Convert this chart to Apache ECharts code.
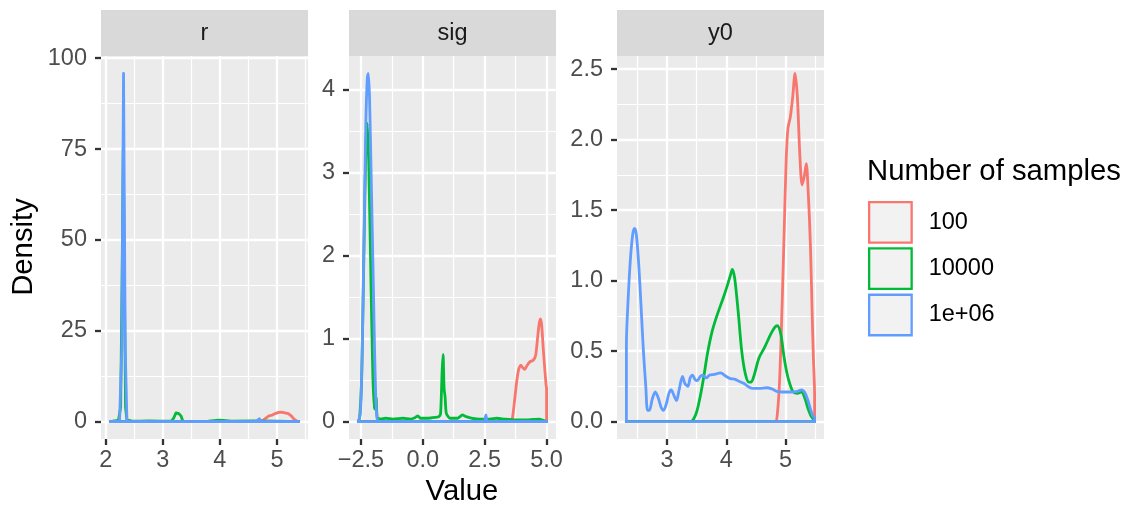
<!DOCTYPE html>
<html>
<head>
<meta charset="utf-8">
<script src="https://cdn.jsdelivr.net/npm/echarts@6/dist/echarts.min.js"></script>
<style>
  html, body { margin: 0; padding: 0; background: #fff; }
  #chart { width: 1124px; height: 505px; }
</style>
</head>
<body>
<div id="chart"></div>
<script>
// facets and groups
const panelNames = ['r', 'sig', 'y0']
const groups = ['100', '10000', '1e+06']
const colors = ['#F8766D', '#00BA38', '#619CFF']

// axis ranges (ggplot expanded by 5%)
const xMin = [1.915, -2.98, 2.154]
const xMax = [5.545, 5.38, 5.649]
const yMin = [-4.79, -0.21, -0.1235]
const yMax = [100.6, 4.41, 2.5935]

// break positions
const xMajor = [[2, 3, 4, 5], [-2.5, 0, 2.5, 5], [3, 4, 5]]
const xMinor = [[2.5, 3.5, 4.5, 5.5], [-1.25, 1.25, 3.75], [2.5, 3.5, 4.5, 5.5]]
const yMajor = [[0, 25, 50, 75, 100], [0, 1, 2, 3, 4], [0, 0.5, 1, 1.5, 2, 2.5]]
const yMinor = [[12.5, 37.5, 62.5, 87.5], [0.5, 1.5, 2.5, 3.5], [0.25, 0.75, 1.25, 1.75, 2.25]]

// density curves: [value, density]
const r100 = [[2.08, 0], [4.70, 0], [4.75, 0.2], [4.80, 0.9], [4.86, 1.6], [4.92, 1.8], [4.97, 2.2], [5.03, 2.55], [5.08, 2.6], [5.14, 2.4], [5.20, 2.2], [5.25, 1.6], [5.30, 0.7], [5.35, 0.1], [5.38, 0]]
const r10000 = [[2.08, 0], [2.15, 0.2], [2.22, 0.3], [2.26, 4], [2.285, 40], [2.305, 75], [2.325, 40], [2.345, 4], [2.37, 0.4], [2.45, 0.2], [2.6, 0.1], [2.75, 0.2], [2.95, 0.1], [3.15, 0.1], [3.19, 1.0], [3.23, 2.4], [3.28, 2.2], [3.32, 1.5], [3.35, 0.1], [3.55, 0.05], [3.8, 0.1], [3.98, 0.4], [4.06, 0.3], [4.2, 0.1], [4.6, 0.2], [5.0, 0.1], [5.38, 0]]
const r1e6 = [[2.08, 0], [2.24, 0], [2.28, 20], [2.31, 95.8], [2.34, 20], [2.37, 0], [4.64, 0], [4.69, 0.8], [4.73, 0], [5.38, 0]]

const sig100 = [[-2.6, 0], [3.56, 0], [3.63, 0.06], [3.72, 0.29], [3.8, 0.5], [3.88, 0.64], [3.96, 0.68], [4.04, 0.65], [4.12, 0.63], [4.2, 0.67], [4.32, 0.72], [4.46, 0.74], [4.56, 0.8], [4.64, 1.02], [4.7, 1.18], [4.75, 1.24], [4.8, 1.17], [4.87, 0.86], [4.93, 0.62], [4.98, 0.44], [5.0, 0.4], [5.0, 0]]
const sig10000 = [[-2.6, 0], [-2.55, 0.05], [-2.47, 0.5], [-2.38, 2.0], [-2.3, 3.3], [-2.24, 3.6], [-2.18, 3.1], [-2.1, 1.8], [-2.02, 0.6], [-1.96, 0.15], [-1.92, 0.3], [-1.88, 0.28], [-1.84, 0.05], [-1.7, 0.03], [-1.5, 0.04], [-1.2, 0.03], [-0.8, 0.04], [-0.5, 0.03], [-0.3, 0.05], [-0.2, 0.07], [-0.1, 0.04], [0.2, 0.04], [0.5, 0.05], [0.65, 0.06], [0.72, 0.1], [0.78, 0.6], [0.82, 0.81], [0.86, 0.4], [0.9, 0.3], [0.95, 0.1], [1.1, 0.04], [1.4, 0.04], [1.6, 0.08], [1.75, 0.06], [2.0, 0.04], [2.3, 0.03], [2.7, 0.03], [3.0, 0.04], [3.3, 0.03], [3.7, 0.02], [4.2, 0.02], [4.7, 0.03], [5.0, 0]]
const sig1e6 = [[-2.6, 0], [-2.52, 0.1], [-2.45, 0.8], [-2.38, 2.1], [-2.3, 3.6], [-2.24, 4.15], [-2.2, 4.2], [-2.15, 3.9], [-2.08, 2.9], [-2.0, 1.7], [-1.95, 0.9], [-1.9, 0.3], [-1.85, 0.05], [-1.8, 0], [2.47, 0], [2.55, 0.08], [2.62, 0], [5.0, 0]]

const y0100 = [[2.313, 0], [4.82, 0], [4.86, 0.05], [4.9, 0.3], [4.94, 0.8], [4.98, 1.4], [5.01, 1.85], [5.04, 2.08], [5.08, 2.16], [5.12, 2.3], [5.16, 2.47], [5.2, 2.3], [5.24, 1.9], [5.28, 1.68], [5.32, 1.75], [5.35, 1.83], [5.38, 1.65], [5.42, 1.25], [5.45, 0.75], [5.47, 0.45], [5.49, 0.2], [5.49, 0]]
const y010000 = [[2.313, 0], [3.4, 0], [3.45, 0.02], [3.5, 0.07], [3.56, 0.18], [3.62, 0.32], [3.68, 0.48], [3.76, 0.64], [3.84, 0.75], [3.95, 0.88], [4.02, 0.97], [4.07, 1.04], [4.1, 1.08], [4.14, 1.02], [4.2, 0.78], [4.26, 0.5], [4.32, 0.34], [4.38, 0.28], [4.42, 0.28], [4.47, 0.33], [4.55, 0.45], [4.65, 0.53], [4.75, 0.62], [4.82, 0.67], [4.86, 0.68], [4.92, 0.62], [4.97, 0.47], [5.02, 0.35], [5.07, 0.27], [5.13, 0.21], [5.2, 0.2], [5.27, 0.21], [5.33, 0.16], [5.38, 0.09], [5.43, 0.04], [5.49, 0.01]]
const y01e6 = [[2.313, 0], [2.313, 0.55], [2.34, 0.85], [2.38, 1.15], [2.42, 1.33], [2.45, 1.37], [2.48, 1.33], [2.52, 1.12], [2.56, 0.82], [2.6, 0.5], [2.64, 0.25], [2.67, 0.08], [2.7, 0.08], [2.75, 0.16], [2.8, 0.21], [2.85, 0.17], [2.9, 0.1], [2.94, 0.08], [2.99, 0.13], [3.03, 0.2], [3.07, 0.225], [3.12, 0.18], [3.16, 0.15], [3.2, 0.22], [3.26, 0.32], [3.3, 0.27], [3.35, 0.25], [3.39, 0.31], [3.43, 0.33], [3.47, 0.3], [3.51, 0.29], [3.56, 0.32], [3.6, 0.33], [3.66, 0.31], [3.72, 0.33], [3.8, 0.335], [3.9, 0.345], [4.0, 0.32], [4.07, 0.305], [4.15, 0.3], [4.22, 0.285], [4.3, 0.27], [4.38, 0.245], [4.45, 0.235], [4.55, 0.235], [4.68, 0.24], [4.78, 0.23], [4.85, 0.215], [4.95, 0.21], [5.1, 0.21], [5.2, 0.215], [5.27, 0.225], [5.32, 0.21], [5.37, 0.16], [5.42, 0.09], [5.46, 0.04], [5.49, 0.03], [5.49, 0]]

const curves = [[r100, r10000, r1e6], [sig100, sig10000, sig1e6], [y0100, y010000, y01e6]]

// layout
const FONT = '"Liberation Sans", Arial, Helvetica, sans-serif'
const SMALL = 23.5
const BIG = 29.3
const panelLeft = [101, 349, 617]
const panelWidth = 207
const panelTop = 56
const panelHeight = 383
const smoothing = [0, 0.2, 0.3]

const minusFmt = v => String(v).replace('-', '\u2212')
const xFmt = [v => String(v), v => minusFmt(v.toFixed(1)), v => String(v)]
const yFmt = [v => String(v), v => String(v), v => v.toFixed(1)]

const grid = panelLeft.map(left => ({
  left, top: panelTop, width: panelWidth, height: panelHeight,
  show: true, backgroundColor: '#EBEBEB', borderWidth: 0,
  containLabel: false, outerBoundsMode: 'none',
}))

const tickStyle = { show: true, length: 6, lineStyle: { color: '#333333', width: 2.3 } }
const labelStyle = { color: '#4D4D4D', fontSize: SMALL, fontFamily: FONT }

const xAxis = []
const yAxis = []
// major axes (labels, ticks, major grid)
panelNames.forEach((p, i) => {
  xAxis.push({
    type: 'value', gridIndex: i, min: xMin[i], max: xMax[i], position: 'bottom',
    axisLine: { show: false, onZero: false },
    axisTick: { ...tickStyle, customValues: xMajor[i] },
    axisLabel: { ...labelStyle, margin: 10, customValues: xMajor[i], formatter: xFmt[i] },
    splitLine: { show: true, lineStyle: { color: '#FFFFFF', width: 2.3 } },
  })
  yAxis.push({
    type: 'value', gridIndex: i, min: yMin[i], max: yMax[i], position: 'left',
    axisLine: { show: false, onZero: false },
    axisTick: { ...tickStyle, customValues: yMajor[i] },
    axisLabel: { ...labelStyle, margin: 14, customValues: yMajor[i], formatter: yFmt[i] },
    splitLine: { show: true, lineStyle: { color: '#FFFFFF', width: 2.3 } },
  })
})
// minor grid lines
panelNames.forEach((p, i) => {
  xAxis.push({
    type: 'value', gridIndex: i, min: xMin[i], max: xMax[i], position: 'top',
    axisLine: { show: false, onZero: false },
    axisTick: { show: false, customValues: xMinor[i] },
    axisLabel: { show: false },
    splitLine: { show: true, lineStyle: { color: '#FFFFFF', width: 1.2 } },
  })
  yAxis.push({
    type: 'value', gridIndex: i, min: yMin[i], max: yMax[i], position: 'right',
    axisLine: { show: false, onZero: false },
    axisTick: { show: false, customValues: yMinor[i] },
    axisLabel: { show: false },
    splitLine: { show: true, lineStyle: { color: '#FFFFFF', width: 1.2 } },
  })
})

const series = []
curves.forEach((panel, i) => {
  panel.forEach((d, g) => {
    const base = {
      name: groups[g], type: 'line', xAxisIndex: i, yAxisIndex: i,
      showSymbol: false, symbol: 'none', silent: true, animation: false,
      itemStyle: { color: colors[g] },
      lineStyle: { color: colors[g], width: 2.8, join: 'round', cap: 'round' },
    }
    series.push({ ...base, data: d, smooth: smoothing[i] })
    // polygon baseline along zero
    series.push({ ...base, data: [[d[0][0], 0], [d[d.length - 1][0], 0]] })
  })
})

const graphic = []
panelNames.forEach((p, i) => {
  graphic.push({
    type: 'rect', left: panelLeft[i], top: 10, silent: true,
    shape: { width: panelWidth, height: 46 }, style: { fill: '#D9D9D9' },
  })
  graphic.push({
    type: 'text', x: panelLeft[i] + panelWidth / 2, y: 34, silent: true,
    style: { text: p, fill: '#1A1A1A', font: SMALL + 'px ' + FONT, align: 'center', verticalAlign: 'middle' },
  })
})
graphic.push({
  type: 'text', x: 24, y: 247, rotation: Math.PI / 2, silent: true,
  style: { text: 'Density', fill: '#000000', font: BIG + 'px ' + FONT, align: 'center', verticalAlign: 'middle' },
})
graphic.push({
  type: 'text', x: 462, y: 492, silent: true,
  style: { text: 'Value', fill: '#000000', font: BIG + 'px ' + FONT, align: 'center', verticalAlign: 'middle' },
})
graphic.push({
  type: 'text', x: 867, y: 172, silent: true,
  style: { text: 'Number of samples', fill: '#000000', font: BIG + 'px ' + FONT, align: 'left', verticalAlign: 'middle' },
})

const chart = echarts.init(document.getElementById('chart'), null, { renderer: 'canvas' })
chart.setOption({
  animation: false,
  backgroundColor: '#FFFFFF',
  grid, xAxis, yAxis, series, graphic,
  legend: {
    orient: 'vertical', left: 868, top: 201, padding: 0,
    itemWidth: 42.5, itemHeight: 40.5, itemGap: 3.5,
    selectedMode: false,
    data: groups.map((g, i) => ({
      name: g, icon: 'rect',
      itemStyle: { color: '#F2F2F2', borderColor: colors[i], borderWidth: 2.3 },
    })),
    textStyle: { fontSize: SMALL, color: '#000000', fontFamily: FONT, padding: [0, 0, 0, 12] },
  },
})
</script>
</body>
</html>
